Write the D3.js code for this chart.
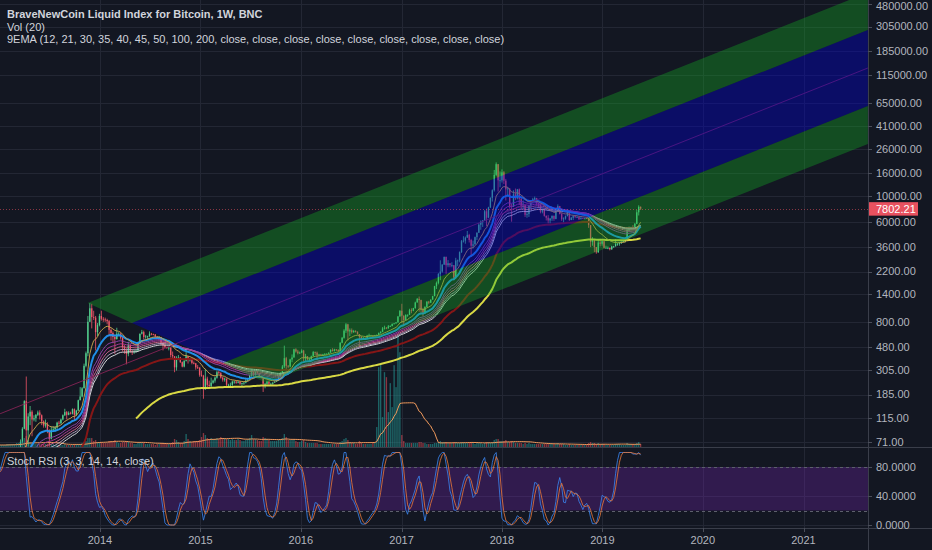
<!DOCTYPE html>
<html>
<head>
<meta charset="utf-8">
<script src="https://cdn.jsdelivr.net/npm/d3@7"></script>
<style>
  html, body { margin: 0; padding: 0; background: #131722; }
  svg { display: block; font-family: "Liberation Sans", "DejaVu Sans", sans-serif; }
</style>
</head>
<body>
<svg id="chart" width="932" height="550"></svg>
<script>
// weekly closes, BNC index, from the week of 2010-07-19
const closeStart = "2010-07-19";
const closes = [
  0.08,0.06,0.06,0.07,0.066,0.066,0.062,0.062,0.062,0.062,0.062,0.09,0.10,0.105,0.19,0.27,0.26,0.28,0.21,0.21,0.20,0.25,0.25,0.30,
  0.32,0.39,0.42,0.44,0.72,0.90,1.05,0.90,0.91,0.88,0.86,0.84,0.79,0.74,1.0,1.6,3.2,3.5,7.0,6.8,8.0,9.5,18,17,16,15,14.5,13.8,13.7,13.4,9.8,10.8,11.0,8.5,8.2,6.8,5.3,5.5,5.1,4.6,4.0,2.7,3.2,3.1,2.9,2.3,2.5,3.0,3.0,3.2,3.9,4.7,
  6.8,6.3,6.3,5.6,5.9,5.6,4.4,4.9,4.9,5.0,5.2,4.7,4.9,4.9,4.9,5.2,5.1,5.1,4.95,5.1,5.1,5.2,5.5,6.4,6.4,6.7,6.8,7.6,8.8,8.9,10.9,11.3,11.7,10.6,10.4,11.0,11.7,12.3,12.4,12.5,11.9,11.7,10.8,10.9,10.9,11.7,12.3,12.6,13.4,13.5,13.4,13.4,13.6,
  // 2013
  14.2,15.6,17.9,20.6, 22.6,26.8,30,34.5, 46.9,47,71.5,93, 162,90,119,131,112, 115,123,129,122, 108,99,102,90, 76,91,92,95,105, 104,112,122,130, 123,128,126,138,123, 134,165,178,210, 330,425,800,1050, 880,870,650,750,900,
  // 2014
  850,840,830,810, 680,640,590,565, 630,630,580,480,450, 420,500,440,435, 440,447,525,630, 650,590,595,600,630, 625,620,595,585, 590,525,500,480, 475,475,410,400,320, 375,390,355,325, 365,400,375,375, 350,347,320,318,275,
  // 2015
  270,205,255,225, 220,235,245,260, 290,285,260,250,255, 225,225,225,240, 240,235,240,230, 233,235,245,250,270, 290,275,290,285, 265,260,230,230,240, 230,230,235,240, 245,265,285,325, 385,330,325,375,390, 460,440,425,430,
  // 2016
  448,385,400,375, 375,400,435,430,410, 415,410,415,420, 420,430,455,445, 460,455,445,525,580, 670,760,660,675, 650,665,655,625, 590,570,580,575,605, 610,610,605,610, 615,640,655,700,710, 700,730,735,765, 775,790,890,1000,
  // 2017
  905,830,920,920,1010, 1000,1055,1180,1270, 1240,1020,965,1080, 1200,1175,1250,1340, 1640,1750,2100,2200,2530, 2950,2500,2600,2500, 2500,1950,2750,2750,3250, 4050,4100,4350,4600, 4150,3700,3800,4400, 4800,5650,6000,6150,7400, 6500,8000,9700,11300, 15400,19100,13800,13800,
  // 2018
  16200,13700,11500,11700,8200, 8100,10400,9600,11500, 9500,8200,8500,6900, 7000,8300,8900,9400,9650, 8700,8500,7350,7700, 6750,6500,6150,6400, 6750,6350,7400,8200,7000, 6300,6400,6700,7300, 6200,6500,6700,6600, 6600,6300,6450,6400,6450, 6400,5600,4000,4100, 3600,3250,3950,3850,4050,
  // 2019
  3550,3550,3550,3450, 3650,3650,3850,3850, 3950,4000,4050,4150, 5050,5150,5300,5200,5750, 7250,8100,7802.21
];

// weekly highs / lows of the drawn candles, from the week of 2013-01-07
const ohlcStart = "2013-01-07";
const highs = [
  14.5,15.9,18.2,21, 23,27,31,35, 48,48,75,96, 165,266,127,147,135, 122,125,134,135, 124,110,112,106, 92,97,98,98,107, 109,114,124,139, 133,132,131,140,140, 136,167,215,215, 345,440,900,1165, 1150,1000,900,780,940,
  1000,880,870,850, 830,700,660,620, 710,650,640,590,500, 470,535,510,460, 460,460,535,630, 680,670,615,605,660, 640,630,625,600, 600,590,525,520, 485,485,480,440,400, 400,410,395,360, 370,460,400,385, 385,360,350,335,320,
  300,275,310,265, 245,260,250,265, 300,300,290,265,260, 255,230,235,245, 245,245,242,242, 235,238,255,255,275, 310,295,295,298, 285,270,265,235,245, 245,235,238,242, 250,270,290,335, 495,395,335,380,415, 465,470,455,440,
  460,455,420,400, 390,405,445,440,440, 420,420,420,425, 425,432,460,470, 465,460,460,530,590, 690,780,770,700, 700,680,675,660, 625,600,590,585,615, 630,615,610,615, 620,645,660,720,740, 720,750,745,775, 780,795,900,1010,
  1150,910,930,930,1040, 1050,1060,1200,1290, 1330,1250,1060,1095, 1210,1220,1255,1350, 1650,1800,2130,2760,2550, 2980,2980,2770,2600, 2650,2500,2900,2800,3300, 4150,4480,4450,4980, 4700,4250,4100,4450, 4850,5850,6150,6200,7600, 7800,8100,9800,11500, 17000,19800,19100,16500,
  17200,16600,14200,12000,11800, 8600,11300,11700,11600, 11700,9900,9200,8500, 7500,8400,9000,9700,9950, 9700,8800,8500,7800, 7800,6800,6850,6450, 6800,6800,7550,8500,8250, 7150,6550,6800,7400, 7400,6600,6850,6800, 6700,6650,6650,6500,6500, 6550,6500,5600,4400, 4200,3600,4200,4250,4100,
  4100,3700,3650,3560, 3700,3700,4200,3900, 3980,4050,4100,4200, 5300,5450,5420,5600,5850, 7600,8350,8150
];
const lows = [
  13.4,14,15.5,17.5, 20,22.5,26,29, 34,37,46,70, 92,50,65,100,80, 108,107,120,112, 100,95,95,85, 67,75,87,88,93, 101,102,110,120, 112,122,124,124,109, 120,133,165,175, 210,320,400,800, 700,830,450,600,730,
  820,800,800,760, 600,550,520,420, 560,610,560,440,420, 340,400,430,410, 420,430,445,520, 620,560,570,560,590, 610,610,585,575, 575,500,450,470, 465,450,390,385,290, 300,370,350,320, 320,360,345,360, 340,340,305,310,265,
  265,170,205,215, 210,215,230,235, 255,280,255,240,240, 220,215,215,220, 230,230,232,225, 220,225,232,240,250, 265,265,270,278, 258,255,195,210,225, 225,225,225,235, 240,245,265,280, 315,300,315,320,355, 390,430,415,420,
  425,360,365,370, 365,370,400,410,370, 400,405,405,410, 415,420,430,440, 440,445,435,440,520, 570,640,550,600, 630,640,645,620, 480,560,565,570,570, 600,600,590,600, 605,615,630,650,685, 690,700,720,730, 760,770,790,890,
  780,750,820,885,920, 950,990,1040,1180, 980,960,890,940, 1070,1140,1170,1250, 1340,1550,1700,1850,2150, 2520,2100,2400,2400, 2400,1850,1900,2450,2650, 3200,3950,3850,4350, 3950,2950,3500,3800, 4150,4800,5100,5400,6100, 5500,6500,7900,9000, 11000,15000,11000,12000,
  13200,12800,9200,9900,7800, 6000,8100,9300,9400, 8400,7700,7800,6600, 6500,6600,7800,8700,9000, 8300,7900,7100,7100, 6650,6150,5800,5800, 6100,6100,6300,7400,6950, 6100,5900,6250,6700, 6100,6200,6200,6450, 6500,6200,6400,6380,6300, 6350,5300,3600,3700, 3250,3150,3200,3650,3700,
  3500,3500,3450,3370, 3400,3550,3650,3700, 3700,3830,3950,3950, 4100,4950,5050,5050,5150, 5700,6800,7600
];

const volumeStart = "2012-08-20";
const volumes = [
  2,2,2,2,2,2,2,2,2,2,2,2,2,2,2,2,2,2,2,2,
  2,2,2,3, 3,3,3,3, 4,4,5,6, 9,11,7,5,4, 3,3,3,3, 3,3,3,3, 4,3,3,2,2, 2,2,2,3, 2,2,2,2,3, 3,3,3,4, 5,6,9,9, 9,6,7,5,5,
  5,4,4,4, 6,6,5,7, 5,4,4,5,5, 6,5,4,4, 3,3,4,5, 4,4,3,3,3, 3,3,2,3, 3,4,4,3, 3,3,4,5,8, 7,5,4,4, 6,13,8,6, 5,6,6,6,7,
  10,14,12,9, 8,9,8,8, 9,8,10,9,9, 8,8,7,8, 7,7,8,7, 6,6,7,8,9, 12,8,8,7, 6,6,10,9,8, 7,6,6,6, 6,7,8,9, 13,10,7,7,7, 8,6,5,5,
  6,7,5,4, 4,4,4,4,4, 3,3,3,3, 3,3,3,3, 3,3,3,5,6, 8,9,7,5, 4,4,3,3, 6,4,3,3,3, 3,3,4,5, 20,80,84,30,75, 70,35,64,40, 82,60,112,95,
  12,6,4,4,4, 4,4,4,4, 5,5,4,4, 3,3,3,3, 4,4,5,6,5, 5,5,4,4, 4,5,5,4,4, 5,5,4,4, 4,5,4,3, 4,4,4,3,4, 5,5,4,5, 7,8,8,6,
  6,6,7,5,5, 6,5,4,4, 4,4,3,4, 3,4,3,3,3, 3,3,3,3, 3,3,3,3, 3,3,3,4,3, 3,3,2,2, 3,2,2,2, 2,2,2,2,2, 2,4,5,4, 4,3,4,3,3,
  3,2,2,2, 2,2,3,3, 3,2,2,2, 4,3,3,3,3, 4,5,3
];

const emaLengths = [12, 21, 30, 35, 40, 45, 50, 100, 200];
const emaColors  = ["#c9a24c", "#2196f3", "#8e44ad", "#b0399a", "#d0658f", "#b9a3c2", "#dcdce0", "#8b1616", "#e4e447"];
const emaWidths  = [1, 2, 1, 1, 1, 1, 1, 2, 2];

const priceTicks = [480000, 305000, 185000, 115000, 65000, 41000, 26000, 16000, 10000, 6000, 3600, 2200, 1400, 800, 480, 305, 185, 115, 71];
const rsiTicks = [0, 40, 80];
const yearTicks = [2014, 2015, 2016, 2017, 2018, 2019, 2020, 2021];

// channel drawing: four parallel borders [start, end] as [date, price]
const channelLines = [
  [["2013-11-17", 1167], ["2021-08-23", 604000]],
  [["2014-04-27", 781],  ["2021-08-23", 284200]],
  [["2015-03-24", 349],  ["2021-08-23", 61560]],
  [["2015-08-30", 233],  ["2021-08-23", 28660]]
];
const channelFills = ["rgba(20,175,35,0.36)", "rgba(0,0,205,0.40)", "rgba(20,175,35,0.36)"];
const medianLine = [["2013-01-03", 125.8], ["2021-08-23", 132300]];

const lastPrice = closes[closes.length - 1];

// ---------------------------------------------------------------
const W = 932, H = 550;
const axisX = 868, mainBottom = 447, rsiBottom = 528;
const parse = d3.utcParse("%Y-%m-%d");
const svg = d3.select("#chart");

const t0 = parse(closeStart);
const ohlcOffset = Math.round((parse(ohlcStart) - t0) / 6048e5);
if (highs.length !== closes.length - ohlcOffset || lows.length !== highs.length) {
  throw new Error("ohlc length " + highs.length + "/" + lows.length + " vs " + (closes.length - ohlcOffset));
}
const weekAt = i => d3.utcWeek.offset(t0, i);

const x = d3.scaleUtc()
  .domain([Date.UTC(2014, 0, 1), Date.UTC(2021, 0, 1)])
  .range([100, 803.5]);
const y = d3.scaleLog().domain([64.4, 520000]).range([mainBottom, 0]);
const yRsi = d3.scaleLinear().domain([-4.1, 107.6]).range([rsiBottom, mainBottom]);
const yVol = d3.scaleLinear().domain([0, d3.max(volumes)]).range([mainBottom, mainBottom * 0.75]);

// indicators
function ema(src, n) {
  const k = 2 / (n + 1), out = [];
  let prev = null;
  src.forEach((v, i) => {
    if (i < n - 1) out.push(null);
    else if (i === n - 1) { prev = d3.mean(src.slice(0, n)); out.push(prev); }
    else { prev = v * k + prev * (1 - k); out.push(prev); }
  });
  return out;
}
function sma(src, n) {
  return src.map((v, i) => {
    if (i < n - 1) return null;
    const w = src.slice(i - n + 1, i + 1);
    return w.some(d => d == null) ? null : d3.mean(w);
  });
}
function rma(src, n) {
  const out = [];
  let prev = null, seen = [];
  src.forEach(v => {
    if (v == null) { out.push(null); return; }
    if (prev == null) {
      seen.push(v);
      if (seen.length === n) prev = d3.mean(seen);
      out.push(prev);
    } else { prev = (prev * (n - 1) + v) / n; out.push(prev); }
  });
  return out;
}
const ups = closes.map((c, i) => i === 0 ? null : Math.max(c - closes[i - 1], 0));
const dns = closes.map((c, i) => i === 0 ? null : Math.max(closes[i - 1] - c, 0));
const avgUp = rma(ups, 14), avgDn = rma(dns, 14);
const rsi = closes.map((c, i) => avgUp[i] == null ? null : (avgDn[i] === 0 ? 100 : 100 - 100 / (1 + avgUp[i] / avgDn[i])));
const stoch = rsi.map((r, i) => {
  if (r == null || i < 13) return null;
  const w = rsi.slice(i - 13, i + 1);
  if (w.some(d => d == null)) return null;
  const lo = d3.min(w), hi = d3.max(w);
  return hi === lo ? 0 : (r - lo) / (hi - lo) * 100;
});
const stochK = sma(stoch, 3);
const stochD = sma(stochK, 3);

const candles = highs.map((h, j) => {
  const i = ohlcOffset + j;
  const o = closes[i - 1], c = closes[i];
  return { t: weekAt(i), o, c, h: Math.max(h, o, c), l: Math.min(lows[j], o, c) };
});
const v0 = parse(volumeStart);
const volMa = sma(volumes, 20);
const volBars = volumes.map((v, i) => {
  const t = d3.utcWeek.offset(v0, i);
  const ci = Math.round((t - t0) / 6048e5);
  return { t, v, up: closes[ci] >= closes[ci - 1], ma: volMa[i] };
});

// ---------------------------------------------------------------
svg.append("rect").attr("width", W).attr("height", H).attr("fill", "#131722");

const defs = svg.append("defs");
defs.append("clipPath").attr("id", "clipMain").append("rect")
  .attr("x", 0).attr("y", 0).attr("width", axisX).attr("height", mainBottom);
defs.append("clipPath").attr("id", "clipRsi").append("rect")
  .attr("x", 0).attr("y", mainBottom).attr("width", axisX).attr("height", rsiBottom - mainBottom);

// grid
const grid = svg.append("g").attr("stroke", "#232734").attr("stroke-width", 1).attr("shape-rendering", "crispEdges");
grid.selectAll(".gy").data(priceTicks).join("line")
  .attr("x1", 0).attr("x2", axisX)
  .attr("y1", d => Math.round(y(d)) + 0.5).attr("y2", d => Math.round(y(d)) + 0.5);
grid.selectAll(".gr").data(rsiTicks).join("line")
  .attr("x1", 0).attr("x2", axisX)
  .attr("y1", d => Math.round(yRsi(d)) + 0.5).attr("y2", d => Math.round(yRsi(d)) + 0.5);
grid.selectAll(".gx").data(yearTicks).join("line")
  .attr("x1", d => Math.round(x(Date.UTC(d, 0, 1))) + 0.5).attr("x2", d => Math.round(x(Date.UTC(d, 0, 1))) + 0.5)
  .attr("y1", 0).attr("y2", rsiBottom);

// main pane
const main = svg.append("g").attr("clip-path", "url(#clipMain)");

const step = x(weekAt(1)) - x(weekAt(0));
const bodyW = step * 0.7;
const upCol = "#53d08f", dnCol = "#ef5668";
const cg = main.append("g");
cg.selectAll("line").data(candles).join("line")
  .attr("x1", d => x(d.t)).attr("x2", d => x(d.t))
  .attr("y1", d => y(d.h)).attr("y2", d => y(d.l))
  .attr("stroke", d => d.c >= d.o ? upCol : dnCol).attr("stroke-width", 0.8);
cg.selectAll("rect").data(candles).join("rect")
  .attr("x", d => x(d.t) - bodyW / 2).attr("width", bodyW)
  .attr("y", d => y(Math.max(d.o, d.c)))
  .attr("height", d => Math.max(0.8, y(Math.min(d.o, d.c)) - y(Math.max(d.o, d.c))))
  .attr("fill", d => d.c >= d.o ? upCol : dnCol);

// volume overlay
main.append("g").selectAll("rect").data(volBars).join("rect")
  .attr("x", d => x(d.t) - bodyW / 2).attr("width", bodyW)
  .attr("y", d => yVol(d.v)).attr("height", d => mainBottom - yVol(d.v))
  .attr("fill", d => d.up ? "rgba(38,166,160,0.55)" : "rgba(235,80,90,0.55)");
main.append("path")
  .datum(volBars.filter(d => d.ma != null))
  .attr("fill", "none").attr("stroke", "#f19a5c").attr("stroke-width", 1)
  .attr("d", d3.line().x(d => x(d.t)).y(d => yVol(d.ma)));

// 9 EMA ribbon
const firstDrawn = ohlcOffset - 4;
const emaLine = d3.line().defined(d => d.v != null).x(d => x(d.t)).y(d => y(d.v));
emaLengths.slice().reverse().forEach(n => {
  const k = emaLengths.indexOf(n);
  const vals = ema(closes, n);
  const pts = vals.map((v, i) => ({ t: weekAt(i), v })).slice(firstDrawn);
  main.append("path").datum(pts)
    .attr("fill", "none").attr("stroke", emaColors[k]).attr("stroke-width", emaWidths[k])
    .attr("stroke-linejoin", "round").attr("opacity", 0.95)
    .attr("d", emaLine);
});

// channel drawing on top, median line under the fills
const pt = d => [x(parse(d[0])), y(d[1])];
main.append("path")
  .attr("d", d3.line()(medianLine.map(pt)))
  .attr("stroke", "#8c2458").attr("stroke-width", 1).attr("fill", "none").attr("opacity", 0.85);
channelFills.forEach((fill, k) => {
  const a = channelLines[k], b = channelLines[k + 1];
  main.append("path")
    .attr("d", d3.line()([pt(a[0]), pt(a[1]), pt(b[1]), pt(b[0])]) + "Z")
    .attr("fill", fill);
});

// last price line
main.append("line")
  .attr("x1", 0).attr("x2", axisX)
  .attr("y1", Math.round(y(lastPrice)) + 0.5).attr("y2", Math.round(y(lastPrice)) + 0.5)
  .attr("stroke", "#e8515f").attr("stroke-opacity", 0.55).attr("stroke-dasharray", "1,2");

// Stoch RSI pane
const rsiG = svg.append("g").attr("clip-path", "url(#clipRsi)");
rsiG.append("rect")
  .attr("x", 0).attr("width", axisX)
  .attr("y", yRsi(80)).attr("height", yRsi(20) - yRsi(80))
  .attr("fill", "rgba(135,40,205,0.26)");
rsiG.selectAll(".band").data([80, 20]).join("line")
  .attr("x1", 0).attr("x2", axisX)
  .attr("y1", d => Math.round(yRsi(d)) + 0.5).attr("y2", d => Math.round(yRsi(d)) + 0.5)
  .attr("stroke", "#5d606c").attr("stroke-dasharray", "3,3");
const rsiLine = d3.line().defined(d => d.v != null).x(d => x(d.t)).y(d => yRsi(d.v));
[[stochK, "#3a86f0"], [stochD, "#e9783a"]].forEach(([series, col]) => {
  rsiG.append("path")
    .datum(series.map((v, i) => ({ t: weekAt(i), v })).slice(firstDrawn))
    .attr("fill", "none").attr("stroke", col).attr("stroke-width", 0.9)
    .attr("stroke-opacity", 0.9).attr("d", rsiLine);
});

// separators
const sep = svg.append("g").attr("stroke", "#3a3e4a").attr("stroke-width", 1).attr("shape-rendering", "crispEdges");
sep.append("line").attr("x1", 0).attr("x2", W).attr("y1", mainBottom + 0.5).attr("y2", mainBottom + 0.5);
sep.append("line").attr("x1", 0).attr("x2", W).attr("y1", rsiBottom + 0.5).attr("y2", rsiBottom + 0.5);
sep.append("line").attr("x1", axisX + 0.5).attr("x2", axisX + 0.5).attr("y1", 0).attr("y2", H);

// price axis
const fmt2 = d3.format(".2f"), fmt4 = d3.format(".4f");
const axisText = "#b2b5be";
const pa = svg.append("g").attr("font-size", 11).attr("fill", axisText);
pa.selectAll("text").data(priceTicks).join("text")
  .attr("x", 876).attr("y", d => Math.max(y(d), 6)).attr("dy", "0.35em").text(d => fmt2(d));
pa.selectAll("line").data(priceTicks).join("line")
  .attr("x1", axisX).attr("x2", axisX + 4)
  .attr("y1", d => Math.round(y(d)) + 0.5).attr("y2", d => Math.round(y(d)) + 0.5)
  .attr("stroke", "#4a4e5a");
const ra = svg.append("g").attr("font-size", 11).attr("fill", axisText);
ra.selectAll("text").data(rsiTicks).join("text")
  .attr("x", 876).attr("y", d => yRsi(d)).attr("dy", "0.35em").text(d => fmt4(d));
ra.selectAll("line").data(rsiTicks).join("line")
  .attr("x1", axisX).attr("x2", axisX + 4)
  .attr("y1", d => Math.round(yRsi(d)) + 0.5).attr("y2", d => Math.round(yRsi(d)) + 0.5)
  .attr("stroke", "#4a4e5a");

// last price label
const ly = y(lastPrice);
svg.append("rect").attr("x", axisX + 1).attr("y", ly - 6.5).attr("width", 49).attr("height", 13.5).attr("fill", "#e8515f");
svg.append("text").attr("x", 876).attr("y", ly + 0.5).attr("dy", "0.35em")
  .attr("font-size", 11).attr("fill", "#ffffff").text(fmt2(lastPrice));

// time axis
const ta = svg.append("g").attr("font-size", 11).attr("fill", axisText);
ta.selectAll("text").data(yearTicks).join("text")
  .attr("x", d => x(Date.UTC(d, 0, 1))).attr("y", 544).attr("text-anchor", "middle").text(d => d);
ta.selectAll("line").data(yearTicks).join("line")
  .attr("x1", d => Math.round(x(Date.UTC(d, 0, 1))) + 0.5).attr("x2", d => Math.round(x(Date.UTC(d, 0, 1))) + 0.5)
  .attr("y1", rsiBottom).attr("y2", rsiBottom + 4).attr("stroke", "#4a4e5a");

// legends
const legend = svg.append("g").attr("font-size", 11).attr("fill", "#d1d4dc");
legend.append("text").attr("x", 7).attr("y", 18).attr("font-weight", "bold")
  .text("BraveNewCoin Liquid Index for Bitcoin, 1W, BNC");
legend.append("text").attr("x", 7).attr("y", 30.5).text("Vol (20)");
legend.append("text").attr("x", 7).attr("y", 43)
  .text("9EMA (" + emaLengths.join(", ") + ", " + emaLengths.map(() => "close").join(", ") + ")");
legend.append("text").attr("x", 7).attr("y", 465).text("Stoch RSI (3, 3, 14, 14, close)");
</script>
</body>
</html>
